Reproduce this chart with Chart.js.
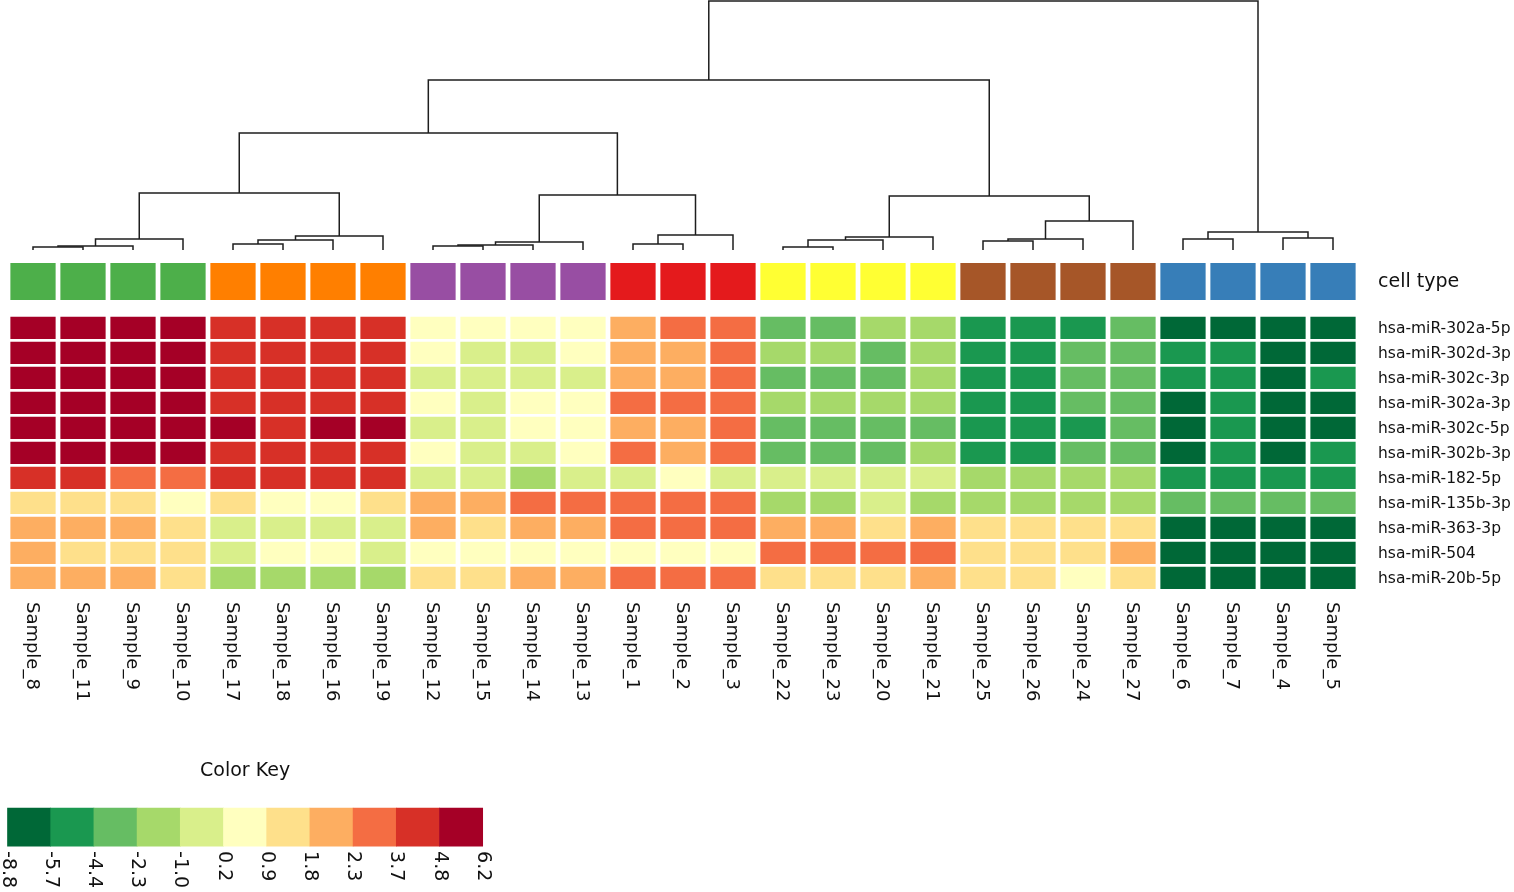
<!DOCTYPE html>
<html>
<head>
<meta charset="utf-8">
<script src="https://cdn.jsdelivr.net/npm/chart.js@4.4.1/dist/chart.umd.min.js"></script>
<style>
html,body{margin:0;padding:0;background:#ffffff;}
#wrap{width:1514px;height:892px;position:relative;}
</style>
</head>
<body>
<div id="wrap"><canvas id="c" width="1514" height="892"></canvas></div>
<script>
// ---------------- data ----------------
const samples = ["Sample_8","Sample_11","Sample_9","Sample_10","Sample_17","Sample_18","Sample_16","Sample_19",
  "Sample_12","Sample_15","Sample_14","Sample_13","Sample_1","Sample_2","Sample_3",
  "Sample_22","Sample_23","Sample_20","Sample_21","Sample_25","Sample_26","Sample_24","Sample_27",
  "Sample_6","Sample_7","Sample_4","Sample_5"];

const genes = ["hsa-miR-302a-5p","hsa-miR-302d-3p","hsa-miR-302c-3p","hsa-miR-302a-3p","hsa-miR-302c-5p",
  "hsa-miR-302b-3p","hsa-miR-182-5p","hsa-miR-135b-3p","hsa-miR-363-3p","hsa-miR-504","hsa-miR-20b-5p"];

const cellTypes = ["A","A","A","A","B","B","B","B","C","C","C","C","D","D","D",
  "E","E","E","E","F","F","F","F","G","G","G","G"];
const cellTypeNames = ["A","B","C","D","E","F","G"];
const cellTypeColors = ["#4daf4a","#ff7f00","#984ea3","#e41a1c","#ffff33","#a65628","#377eb8"];

const keyBreaks = [-8.8,-5.7,-4.4,-2.3,-1.0,0.2,0.9,1.8,2.3,3.7,4.8,6.2];
const keyLabels = ["-8.8","-5.7","-4.4","-2.3","-1.0","0.2","0.9","1.8","2.3","3.7","4.8","6.2"];
const keyColors = ["#006837","#1a9850","#66bd63","#a6d96a","#d9ef8b","#ffffbf","#fee08b","#fdae61","#f46d43","#d73027","#a50026"];

const mir302a_5p = [5.6,5.5,5.4,5.5, 4.3,4.2,4.4,4.1, 0.6,0.5,0.4,0.5, 2.1,2.9,3.1, -3.2,-3.5,-1.8,-1.6, -5.1,-4.9,-4.8,-3.6, -7.4,-7.6,-8.1,-7.2];
const mir302d_3p = [5.7,5.5,5.6,5.4, 4.2,4.0,4.3,4.1, 0.4,-0.3,-0.2,0.5, 2.0,2.1,3.0, -1.6,-1.8,-3.1,-1.5, -5.0,-4.8,-3.4,-3.3, -5.2,-4.9,-7.3,-7.0];
const mir302c_3p = [5.5,5.6,5.4,5.7, 4.3,4.1,4.2,4.0, -0.2,-0.4,-0.3,-0.1, 2.0,2.2,3.2, -3.3,-3.4,-3.0,-1.7, -5.0,-5.1,-3.6,-3.2, -5.0,-4.9,-7.5,-5.3];
const mir302a_3p = [5.8,5.6,5.5,5.6, 4.1,4.2,4.4,4.3, 0.6,-0.2,0.4,0.5, 2.9,3.1,3.2, -1.8,-1.6,-1.9,-1.7, -5.1,-5.0,-3.5,-3.3, -7.1,-5.2,-7.8,-7.2];
const mir302c_5p = [5.9,5.7,5.8,5.6, 5.1,4.4,5.2,5.0, -0.3,-0.5,0.5,0.6, 2.1,2.2,3.0, -3.4,-3.3,-3.1,-3.5, -5.0,-5.1,-4.9,-3.4, -7.3,-5.0,-7.6,-7.1];
const mir302b_3p = [5.6,5.5,5.7,5.4, 4.2,4.1,4.3,4.0, 0.5,-0.3,-0.2,0.4, 2.8,2.1,3.1, -3.3,-3.2,-3.5,-1.7, -5.1,-4.9,-3.4,-3.2, -7.2,-5.1,-7.7,-4.9];
const mir182_5p  = [4.0,3.9,3.3,3.1, 4.3,4.1,4.2,4.0, -0.5,-0.4,-1.5,-0.3, -0.2,0.4,-0.6, -0.4,-0.5,-0.3,-0.2, -1.6,-1.8,-1.5,-1.7, -5.0,-4.9,-5.2,-5.1];
const mir135b_3p = [1.2,1.3,1.1,0.6, 1.4,0.7,0.5,1.2, 2.0,2.1,2.9,3.0, 3.1,2.8,3.0, -1.6,-1.7,-0.5,-1.8, -1.5,-1.7,-1.6,-1.9, -3.5,-3.3,-3.4,-3.2];
const mir363_3p  = [2.1,2.0,2.2,1.3, -0.4,-0.5,-0.3,-0.4, 2.0,1.2,2.1,2.0, 3.0,3.1,2.9, 2.0,2.1,1.4,2.0, 1.2,1.3,1.4,1.1, -7.5,-7.8,-7.3,-7.6];
const mir504     = [2.0,1.4,1.3,1.2, -0.3,0.4,0.5,-0.5, 0.5,0.6,0.4,0.5, 0.4,0.5,0.6, 3.0,3.1,2.9,3.2, 1.3,1.2,1.4,2.1, -7.7,-7.5,-7.9,-7.6];
const mir20b_5p  = [2.1,2.0,2.2,1.3, -1.6,-1.7,-1.8,-1.5, 1.2,1.3,2.0,2.1, 3.0,3.1,2.9, 1.3,1.2,1.4,2.0, 1.3,1.1,0.6,1.2, -7.6,-7.4,-7.8,-7.5];

const heatRows = [mir302a_5p,mir302d_3p,mir302c_3p,mir302a_3p,mir302c_5p,mir302b_3p,mir182_5p,mir135b_3p,mir363_3p,mir504,mir20b_5p];

// column dendrogram, hclust style: negative = leaf (1-based position), positive = earlier merge (1-based)
const merges = [
  [-1,-2,0.3],[1,-3,0.4],[2,-4,1.1],
  [-5,-6,0.6],[4,-7,1.0],[5,-8,1.4],
  [3,6,5.7],
  [-9,-10,0.4],[8,-11,0.5],[9,-12,0.8],
  [-13,-14,0.6],[11,-15,1.5],
  [10,12,5.5],
  [7,13,11.7],
  [-16,-17,0.3],[15,-18,1.0],[16,-19,1.3],
  [-20,-21,0.9],[18,-22,1.1],[19,-23,2.9],
  [17,20,5.4],
  [14,21,17.0],
  [-24,-25,1.1],[-26,-27,1.2],[23,24,1.8],
  [22,25,24.9]
];

// ---------------- helpers ----------------
function colorFor(v){
  for (let i=0;i<keyColors.length;i++){
    if (v < keyBreaks[i+1]) return keyColors[i];
  }
  return keyColors[keyColors.length-1];
}
function dendroSegments(m){
  const nodes=[]; const segs=[];
  const get = r => r<0 ? {x:-r-1,h:0} : nodes[r-1];
  m.forEach(([a,b,h])=>{
    const A=get(a), B=get(b);
    segs.push([{x:A.x,y:A.h},{x:A.x,y:h},{x:B.x,y:h},{x:B.x,y:B.h}]);
    nodes.push({x:(A.x+B.x)/2,h:h});
  });
  return segs;
}

const FONT = '"DejaVu Sans", Verdana, sans-serif';
const CELL_HALF = 0.446;          // half cell height in row units
const CT_RANGE = [-2.59,-1.11];   // cell-type strip in row units
const KEY_RANGE = [19.21,20.73];  // color-key strip in row units

const datasets = [];
dendroSegments(merges).forEach(seg=>{
  datasets.push({type:'line', data:seg, xAxisID:'x', yAxisID:'yD', borderColor:'#1e1e1e', borderWidth:1.5,
    pointRadius:0, fill:false, tension:0, order:0});
});
datasets.push({type:'bar', label:'cell type', data:samples.map((s,i)=>({x:i,y:CT_RANGE})),
  backgroundColor:cellTypes.map(t=>cellTypeColors[cellTypeNames.indexOf(t)]),
  xAxisID:'x', yAxisID:'yH', grouped:false, barPercentage:0.905, categoryPercentage:1, borderWidth:0});
heatRows.forEach((vals,r)=>{
  datasets.push({type:'bar', label:genes[r], data:vals.map((v,i)=>({x:i,y:[r-CELL_HALF,r+CELL_HALF]})),
    backgroundColor:vals.map(colorFor), xAxisID:'x', yAxisID:'yH', grouped:false,
    barPercentage:0.905, categoryPercentage:1, borderWidth:0});
});
datasets.push({type:'bar', label:'key', data:keyColors.map((c,i)=>({x:i+0.5,y:KEY_RANGE})),
  backgroundColor:keyColors, xAxisID:'xK', yAxisID:'yH', grouped:false,
  barPercentage:1, categoryPercentage:1, borderWidth:0});

const textPlugin = {
  id:'heatText',
  afterDraw(chart){
    const ctx=chart.ctx, sx=chart.scales.x, sy=chart.scales.yH, sk=chart.scales.xK;
    ctx.save();
    ctx.fillStyle='#111111';
    // right-side labels
    const lx = sx.getPixelForValue(samples.length-1) + 45;
    ctx.textAlign='left'; ctx.textBaseline='middle';
    ctx.font='19px '+FONT;
    ctx.fillText('cell type', lx, sy.getPixelForValue((CT_RANGE[0]+CT_RANGE[1])/2)+1);
    ctx.font='15.5px '+FONT;
    genes.forEach((g,r)=>ctx.fillText(g, lx, sy.getPixelForValue(r)+1));
    // sample labels rotated clockwise
    ctx.font='18px '+FONT;
    const sy0 = sy.getPixelForValue(genes.length-1+CELL_HALF) + 13;
    samples.forEach((s,i)=>{
      ctx.save(); ctx.translate(sx.getPixelForValue(i)-1, sy0); ctx.rotate(Math.PI/2);
      ctx.fillText(s,0,0); ctx.restore();
    });
    // color key title
    ctx.textAlign='center';
    ctx.font='19px '+FONT;
    ctx.fillText('Color Key', sk.getPixelForValue(keyColors.length/2), sy.getPixelForValue(KEY_RANGE[0]) - 37);
    // key labels
    ctx.textAlign='left';
    const ky0 = sy.getPixelForValue(KEY_RANGE[1]) + 5;
    keyLabels.forEach((t,i)=>{
      ctx.save(); ctx.translate(sk.getPixelForValue(i), ky0); ctx.rotate(Math.PI/2);
      ctx.fillText(t,0,0); ctx.restore();
    });
    ctx.restore();
  }
};

const hidden = {display:false, grid:{display:false}, offset:false};
new Chart(document.getElementById('c'), {
  type:'bar',
  data:{datasets:datasets},
  options:{
    responsive:false, animation:false, events:[],
    layout:{padding:0},
    plugins:{legend:{display:false}, tooltip:{enabled:false}},
    scales:{
      x:  Object.assign({type:'linear', min:-0.66, max:29.62, ticks:{stepSize:1}}, hidden),
      xK: Object.assign({type:'linear', axis:'x', min:-0.1736, max:34.873, ticks:{stepSize:1}}, hidden),
      yD: Object.assign({type:'linear', axis:'y', min:-64.2, max:25.0}, hidden),
      yH: Object.assign({type:'linear', axis:'y', min:-13.112, max:22.568, reverse:true}, hidden)
    }
  },
  plugins:[textPlugin]
});
</script>
</body>
</html>
